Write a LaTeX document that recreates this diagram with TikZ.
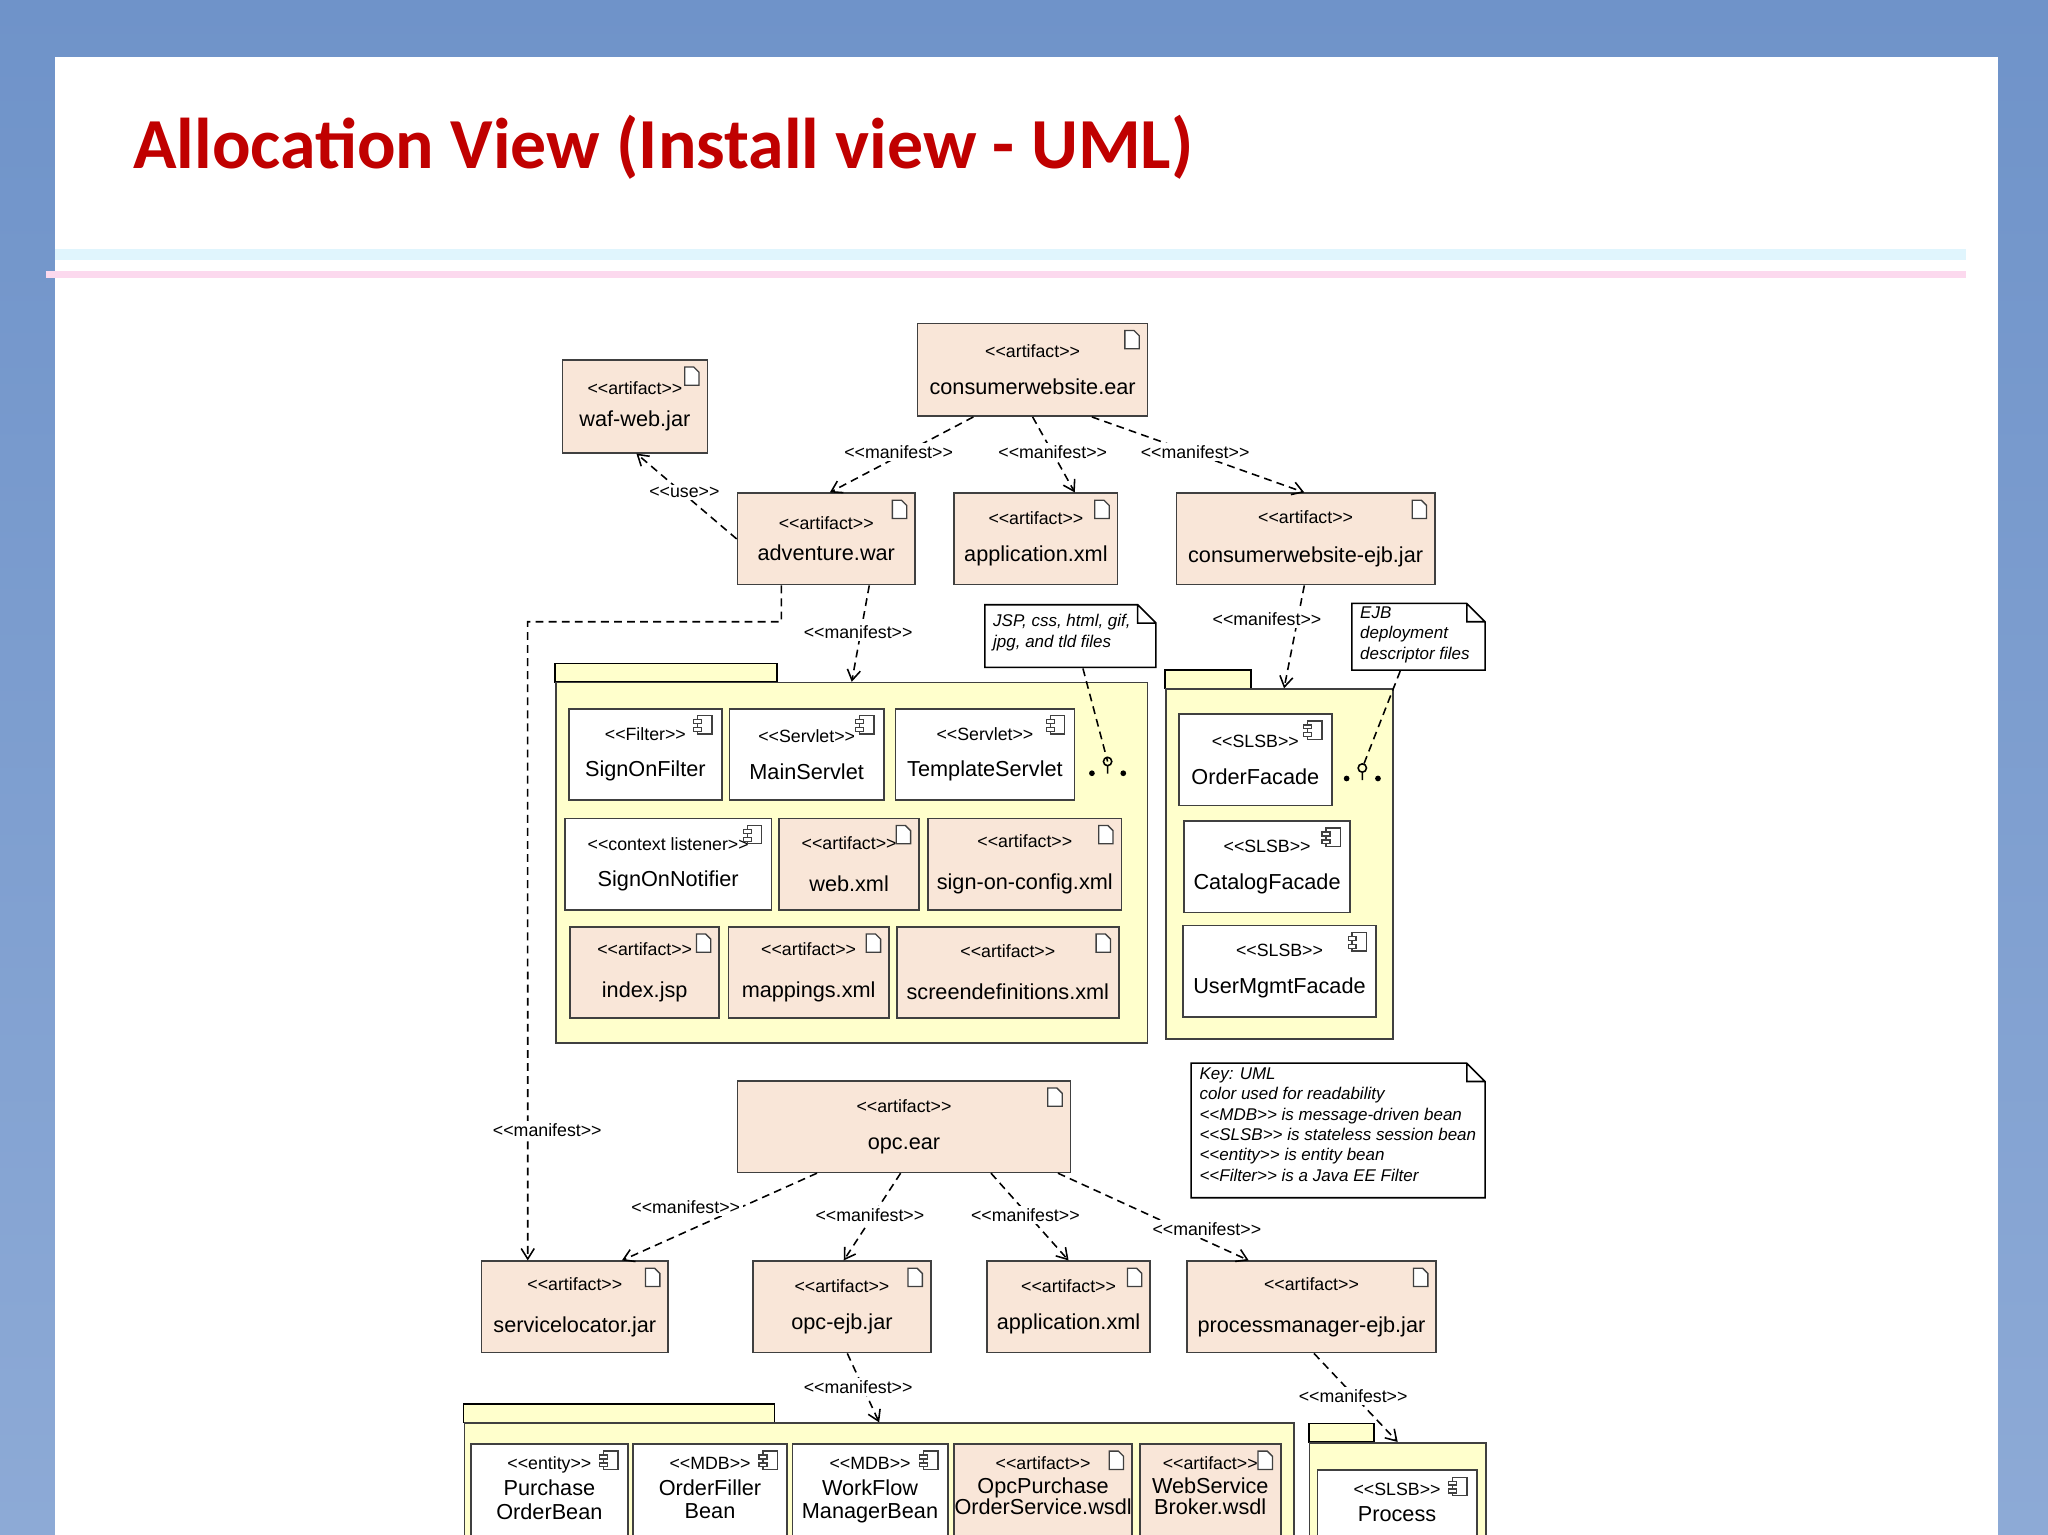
\documentclass[tikz,border=0pt]{standalone}
\usepackage{fontspec}
\setmainfont{Liberation Sans}
\newfontfamily\ttl{Carlito}
\usetikzlibrary{arrows.meta,calc}
\definecolor{peach}{HTML}{F9E6D8}
\definecolor{pkg}{HTML}{FFFFCC}
\definecolor{ttlred}{HTML}{C00000}
\definecolor{frameA}{HTML}{6F93C9}
\definecolor{frameB}{HTML}{8DAAD6}
\newcommand\st{\fontsize{6.8}{8}\selectfont}
\newcommand\nm{\fontsize{8.3}{10}\selectfont}
\newcommand\sa[1]{{<}{<}#1{>}{>}}
\newcommand\bx[7]{\node[#7, minimum width={(#4-#2)*0.5pt}, minimum height={(#5-#3)*0.5pt}] (#1) at (#2,#3) {#6};}
\newcommand\toptext[2]{\node[anchor=north, align=center, inner sep=0pt, font=\nm] at ([yshift=-5pt]#1.north) {#2};}
\newcommand\docicon[1]{\draw[icon] ([shift={(-18,6)}]#1.north east) -- ++(0,14) -- ++(11,0) -- ++(0,-10) -- ++(-4,-4) -- cycle;}
\newcommand\compicon[1]{\draw[icon] ([shift={(-19,6)}]#1.north east) rectangle ++(11,14);
 \draw[icon] ([shift={(-22,9)}]#1.north east) rectangle ++(6,3);
 \draw[icon] ([shift={(-22,15)}]#1.north east) rectangle ++(6,3);}
\begin{document}
\begin{tikzpicture}[x=0.5pt,y=-0.5pt,
 art/.style={draw=black!75, fill=peach, line width=0.6pt, inner sep=0pt, align=center, anchor=north west},
 comp/.style={art, fill=white},
 pk/.style={draw=black!75, fill=pkg, line width=0.6pt, inner sep=0pt, anchor=north west},
 icon/.style={draw=black!75, fill=white, line width=0.5pt},
 dep/.style={densely dashed, line width=0.6pt, -{Straight Barb[length=4pt,width=5pt]}},
 lnk/.style={densely dashed, line width=0.6pt},
 lab/.style={font=\st, inner sep=1pt},
 notetxt/.style={font=\fontsize{6.5}{7.8}\selectfont\itshape, align=left, anchor=north west, inner sep=0pt}]
\useasboundingbox (0,0) rectangle (1568,1175);
% frame
\shade[top color=frameA, bottom color=frameB] (0,0) rectangle (1568,1175);
\fill[white] (42,44) rectangle (1530,1175);
\node[anchor=west, font=\ttl\bfseries\fontsize{27.5}{30}\selectfont, text=ttlred] (title) at (95,113) {Allocation View (Install view - UML)};
\draw[cyan!12, line width=4] (42,195) -- (1505,195);
\draw[magenta!15, line width=2.5] (35,210) -- (1505,210);
\begin{scope}
\clip (0,0) rectangle (1568,1175);
% top artifacts
\bx{waf}{430}{275}{541}{346}{\st \sa{artifact}\\ \nm waf-web.jar}{art}
\bx{ear}{702}{247}{878}{318}{\st \sa{artifact}\\[2pt] \nm consumerwebsite.ear}{art}
\bx{adv}{564}{377}{700}{447}{\st \sa{artifact}\\ \nm adventure.war}{art}
\bx{appx}{730}{377}{855}{447}{\st \sa{artifact}\\[2pt] \nm application.xml}{art}
\bx{ejb}{900}{377}{1098}{447}{\st \sa{artifact}\\[3pt] \nm consumerwebsite-ejb.jar}{art}
\foreach \n in {waf,ear,adv,appx,ejb} {\docicon{\n}}
% notes
\node[minimum width=65.5pt, minimum height=24pt, anchor=north west, inner sep=0pt] (n1) at (754,463) {};
\draw[line width=0.6pt, fill=white] (754,463) -- (871,463) -- (885,477) -- (885,511) -- (754,511) -- cycle (871,463) -- (871,477) -- (885,477);
\node[notetxt] at (760,470) {JSP, css, html, gif,\\ jpg, and tld files};
\node[minimum width=51pt, minimum height=25.5pt, anchor=north west, inner sep=0pt] (n2) at (1035,462) {};
\draw[line width=0.6pt, fill=white] (1035,462) -- (1123,462) -- (1137,476) -- (1137,513) -- (1035,513) -- cycle (1123,462) -- (1123,476) -- (1137,476);
\node[notetxt] at (1041,464) {EJB\\ deployment\\ descriptor files};
% package A
\draw[line width=0.6pt, fill=pkg] (425,508) rectangle (595,522);
\bx{pkA}{425}{522}{878}{798}{}{pk}
\bx{sof}{435}{542}{552}{612}{\st \sa{Filter}\\[2pt] \nm SignOnFilter}{comp}
\bx{ms}{558}{542}{676}{612}{\st \sa{Servlet}\\[2pt] \nm MainServlet}{comp}
\bx{ts}{685}{542}{822}{612}{\st \sa{Servlet}\\[2pt] \nm TemplateServlet}{comp}
\bx{son}{432}{626}{590}{696}{\st \sa{context listener}\\[2pt] \nm SignOnNotifier}{comp}
\bx{webx}{596}{626}{703}{696}{\st \sa{artifact}\\[4pt] \nm web.xml}{art}
\bx{soc}{710}{626}{858}{696}{\st \sa{artifact}\\[4pt] \nm sign-on-config.xml}{art}
\bx{idx}{436}{709}{550}{779}{\st \sa{artifact}\\[4pt] \nm index.jsp}{art}
\bx{map}{557}{709}{680}{779}{\st \sa{artifact}\\[4pt] \nm mappings.xml}{art}
\bx{scr}{686}{709}{856}{779}{\st \sa{artifact}\\[4pt] \nm screendefinitions.xml}{art}
\foreach \n in {sof,ms,ts,son} {\compicon{\n}}
\foreach \n in {webx,soc,idx,map,scr} {\docicon{\n}}
\coordinate (dA) at (848,583);
\fill (836,592) circle (2.2) (860,592) circle (2.2);
\draw[line width=0.6pt] (dA) circle (3.2) ($(dA)+(0,3.2)$) -- ++(0,6);
% package B
\draw[line width=0.6pt, fill=pkg] (892,513) rectangle (958,527);
\bx{pkB}{892}{527}{1066}{795}{}{pk}
\bx{of}{902}{546}{1019}{616}{\st \sa{SLSB}\\[2pt] \nm OrderFacade}{comp}
\bx{cf}{906}{628}{1033}{698}{\st \sa{SLSB}\\[2pt] \nm CatalogFacade}{comp}
\bx{uf}{905}{708}{1053}{778}{\st \sa{SLSB}\\[2pt] \nm UserMgmtFacade}{comp}
\foreach \n in {of,cf,uf} {\compicon{\n}}
\coordinate (dB) at (1043,588);
\fill (1031,596) circle (2.2) (1055,596) circle (2.2);
\draw[line width=0.6pt] (dB) circle (3.2) ($(dB)+(0,3.2)$) -- ++(0,6);
% key note
\draw[line width=0.6pt, fill=white] (912,814) -- (1123,814) -- (1137,828) -- (1137,917) -- (912,917) -- cycle (1123,814) -- (1123,828) -- (1137,828);
\node[notetxt] (key) at (918,817) {Key: UML\\ color used for readability\\ \sa{MDB} is message-driven bean\\ \sa{SLSB} is stateless session bean\\ \sa{entity} is entity bean\\ \sa{Filter} is a Java EE Filter};
% opc
\bx{opc}{564}{827}{819}{897}{\st \sa{artifact}\\[2pt] \nm opc.ear}{art}
\bx{sl}{368}{965}{511}{1035}{\st \sa{artifact}\\[4pt] \nm servicelocator.jar}{art}
\bx{oejb}{576}{965}{712}{1035}{\st \sa{artifact}\\[2pt] \nm opc-ejb.jar}{art}
\bx{app2}{755}{965}{880}{1035}{\st \sa{artifact}\\[2pt] \nm application.xml}{art}
\bx{pm}{908}{965}{1099}{1035}{\st \sa{artifact}\\[4pt] \nm processmanager-ejb.jar}{art}
\foreach \n in {opc,sl,oejb,app2,pm} {\docicon{\n}}
% bottom packages
\draw[line width=0.6pt, fill=pkg] (355,1075) rectangle (593,1089);
\bx{pkC}{355}{1089}{990}{1200}{}{pk}
\bx{pob}{360}{1105}{480}{1200}{}{comp}
\bx{ofb}{484}{1105}{602}{1200}{}{comp}
\bx{wfm}{606}{1105}{725}{1200}{}{comp}
\bx{opw}{730}{1105}{866}{1200}{}{art}
\bx{wsb}{872}{1105}{980}{1200}{}{art}
\toptext{pob}{\st \sa{entity}\\[0pt] Purchase\\[-1pt] OrderBean}
\toptext{ofb}{\st \sa{MDB}\\[0pt] OrderFiller\\[-1pt] Bean}
\toptext{wfm}{\st \sa{MDB}\\[0pt] WorkFlow\\[-1pt] ManagerBean}
\toptext{opw}{\st \sa{artifact}\\[-1pt] OpcPurchase\\[-2pt] OrderService.wsdl}
\toptext{wsb}{\st \sa{artifact}\\[-1pt] WebService\\[-2pt] Broker.wsdl}
\foreach \n in {pob,ofb,wfm} {\compicon{\n}}
\foreach \n in {opw,wsb} {\docicon{\n}}
\draw[line width=0.6pt, fill=pkg] (1002,1090) rectangle (1052,1104);
\bx{pkD}{1002}{1104}{1137}{1200}{}{pk}
\bx{pr}{1008}{1125}{1130}{1210}{}{comp}
\toptext{pr}{\st \sa{SLSB}\\[0pt] Process}
\compicon{pr}
% connectors
\draw[dep] ($(ear.south west)!0.244!(ear.south east)$) -- ($(adv.north west)!0.52!(adv.north east)$);
\draw[dep] ($(ear.south west)!0.5!(ear.south east)$) -- ($(appx.north west)!0.736!(appx.north east)$);
\draw[dep] ($(ear.south west)!0.756!(ear.south east)$) -- ($(ejb.north west)!0.495!(ejb.north east)$);
\node[lab, fill=white] at (688,346) {\sa{manifest}};
\node[lab, fill=white] at (806,346) {\sa{manifest}};
\node[lab, fill=white] at (915,346) {\sa{manifest}};
\draw[dep] ($(adv.north west)!0.5!(adv.south west)$) -- ($(waf.south west)!0.51!(waf.south east)$);
\node[lab, fill=white] at (524,377) {\sa{use}};
\draw[dep] ($(adv.south west)!0.74!(adv.south east)$) -- ($(pkA.north west)!0.5!(pkA.north east)$);
\node[lab, fill=white] at (657,484) {\sa{manifest}};
\draw[dep] ($(adv.south west)!0.25!(adv.south east)$) |- (404,476) -- ($(sl.north west)!0.25!(sl.north east)$);
\node[lab, fill=white] at (419,865) {\sa{manifest}};
\draw[dep] ($(ejb.south west)!0.495!(ejb.south east)$) -- ($(pkB.north west)!0.52!(pkB.north east)$);
\node[lab, fill=white] at (970,474) {\sa{manifest}};
\draw[lnk] ($(n1.south west)!0.57!(n1.south east)$) -- (dA);
\draw[lnk] ($(n2.south west)!0.36!(n2.south east)$) -- (dB);
\draw[dep] ($(opc.south west)!0.24!(opc.south east)$) -- ($(sl.north west)!0.75!(sl.north east)$);
\draw[dep] ($(opc.south west)!0.49!(opc.south east)$) -- ($(oejb.north west)!0.51!(oejb.north east)$);
\draw[dep] ($(opc.south west)!0.76!(opc.south east)$) -- ($(app2.north west)!0.5!(app2.north east)$);
\draw[dep] ($(opc.south west)!0.96!(opc.south east)$) -- ($(pm.north west)!0.25!(pm.north east)$);
\node[lab, fill=white] at (525,924) {\sa{manifest}};
\node[lab, fill=white] at (666,930) {\sa{manifest}};
\node[lab, fill=white] at (785,930) {\sa{manifest}};
\node[lab, fill=white] at (924,941) {\sa{manifest}};
\draw[dep] ($(oejb.south west)!0.53!(oejb.south east)$) -- ($(pkC.north west)!0.5!(pkC.north east)$);
\node[lab, fill=white] at (657,1062) {\sa{manifest}};
\draw[dep] ($(pm.south west)!0.51!(pm.south east)$) -- ($(pkD.north west)!0.5!(pkD.north east)$);
\node[lab, fill=white] at (1036,1069) {\sa{manifest}};
\end{scope}
\end{tikzpicture}
\end{document}
